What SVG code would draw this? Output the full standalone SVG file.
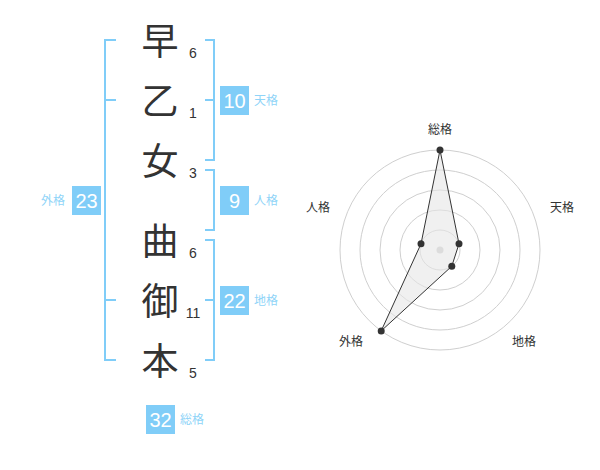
<svg xmlns="http://www.w3.org/2000/svg" width="600" height="470" viewBox="0 0 600 470">
<style>
.ch{font-family:"Noto Sans CJK JP","Noto Sans CJK SC",sans-serif;font-size:37px;fill:#333;text-anchor:middle}
.num{font-family:"Liberation Sans",Arial,sans-serif;font-size:14px;fill:#333;text-anchor:middle}
.br{fill:none;stroke:#80cdf8;stroke-width:2}
.box{fill:#80cdf8}
.bt{font-family:"Liberation Sans",Arial,sans-serif;font-size:20px;fill:#fff;text-anchor:middle}
.lb{font-family:"Noto Sans CJK JP","Noto Sans CJK SC",sans-serif;font-size:12px;fill:#8fd4f8}
.grid{fill:none;stroke:#cfcfcf;stroke-width:1}
.rl{font-family:"Noto Sans CJK JP","Noto Sans CJK SC",sans-serif;font-size:12px;fill:#333;text-anchor:middle}
.dot{fill:#333}
</style>
<g id="name">
<g id="c1"><text class="ch" x="160" y="55">早</text><text class="num" x="193" y="58">6</text></g>
<g id="c2"><text class="ch" x="160" y="115">乙</text><text class="num" x="193" y="118">1</text></g>
<g id="c3"><text class="ch" x="160" y="175">女</text><text class="num" x="193" y="178">3</text></g>
<g id="c4"><text class="ch" x="160" y="255">曲</text><text class="num" x="193" y="258">6</text></g>
<g id="c5"><text class="ch" x="160" y="315">御</text><text class="num" x="193" y="318">11</text></g>
<g id="c6"><text class="ch" x="160" y="375">本</text><text class="num" x="193" y="378">5</text></g>
</g>
<g id="brackets">
<path class="br" d="M116,40H105V360H116M105,100H116M105,300H116"/>
<path class="br" d="M205,40H214V160H205M214,100H205"/>
<path class="br" d="M205,170H214V230H205"/>
<path class="br" d="M205,240H214V360H205M214,300H205"/>
</g>
<g id="tenkaku"><rect class="box" x="220" y="86" width="29" height="29"/><text class="bt" x="234.5" y="108">10</text><text class="lb" x="254" y="105">天格</text></g>
<g id="jinkaku"><rect class="box" x="220" y="186" width="29" height="29"/><text class="bt" x="234.5" y="208">9</text><text class="lb" x="254" y="205">人格</text></g>
<g id="chikaku"><rect class="box" x="220" y="286" width="29" height="29"/><text class="bt" x="234.5" y="308">22</text><text class="lb" x="254" y="305">地格</text></g>
<g id="gaikaku"><rect class="box" x="72" y="186" width="29" height="29"/><text class="bt" x="86.5" y="208">23</text><text class="lb" x="41" y="205">外格</text></g>
<g id="soukaku"><rect class="box" x="146" y="405" width="29" height="29"/><text class="bt" x="160.5" y="427">32</text><text class="lb" x="180" y="424">総格</text></g>
<g id="radar">
<circle class="grid" cx="440" cy="250" r="20"/>
<circle class="grid" cx="440" cy="250" r="40"/>
<circle class="grid" cx="440" cy="250" r="60"/>
<circle class="grid" cx="440" cy="250" r="80"/>
<circle class="grid" cx="440" cy="250" r="100"/>
<circle cx="440" cy="250" r="3.5" fill="#cccccc"/>
<polygon points="440,150 459,243.8 451.8,266.2 381.2,330.9 421,243.8" fill="#e6e6e6" fill-opacity="0.6" stroke="#333" stroke-width="1"/>
<circle class="dot" cx="440" cy="150" r="3.5"/>
<circle class="dot" cx="459" cy="243.8" r="3.5"/>
<circle class="dot" cx="451.8" cy="266.2" r="3.5"/>
<circle class="dot" cx="381.2" cy="330.9" r="3.5"/>
<circle class="dot" cx="421" cy="243.8" r="3.5"/>
<text class="rl" x="440" y="134">総格</text>
<text class="rl" x="562" y="212">天格</text>
<text class="rl" x="524" y="346">地格</text>
<text class="rl" x="351" y="346">外格</text>
<text class="rl" x="318" y="212">人格</text>
</g>
</svg>
